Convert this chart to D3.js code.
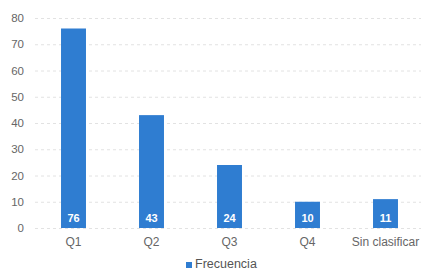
<!DOCTYPE html>
<html>
<head>
<meta charset="utf-8">
<script src="https://cdn.jsdelivr.net/npm/d3@7"></script>
<style>
  body { margin: 0; background: #fff; }
  svg { display: block; font-family: "Liberation Sans", Arial, sans-serif; }
  .tick text { fill: #666; font-size: 11.5px; }
</style>
</head>
<body>
<svg width="421" height="273"></svg>
<script>
const categories = ['Q1', 'Q2', 'Q3', 'Q4', 'Sin clasificar'];
const frecuencia = [76, 43, 24, 10, 11];
const yTicks = [0, 10, 20, 30, 40, 50, 60, 70, 80];
const seriesName = 'Frecuencia';

const svg = d3.select('svg');
const barColor = '#2f7dd1';

const x = d3.scaleBand()
  .domain(categories)
  .range([34.5, 424.5])
  .paddingInner(0.68)
  .paddingOuter(0.34);

const y = d3.scaleLinear()
  .domain([0, 80])
  .range([228, 18]);

// grid
const yAxis = d3.axisLeft(y)
  .tickValues(yTicks)
  .tickSize(-(421 - 35))
  .tickPadding(11);

const yAxisG = svg.append('g')
  .attr('transform', 'translate(35,0)')
  .call(yAxis);
yAxisG.select('.domain').remove();
yAxisG.selectAll('.tick line')
  .attr('stroke', '#e2e2e2')
  .attr('stroke-dasharray', '3,3');

const xAxis = d3.axisBottom(x).tickSize(0).tickPadding(9);
const xAxisG = svg.append('g')
  .attr('transform', 'translate(0,228)')
  .call(xAxis);
xAxisG.select('.domain').remove();
xAxisG.selectAll('.tick text').style('font-size', '12px').attr('fill', '#555');

const data = categories.map((c, i) => ({ cat: c, value: frecuencia[i] }));

svg.selectAll('rect.bar').data(data)
  .enter().append('rect')
    .attr('class', 'bar')
    .attr('x', d => x(d.cat))
    .attr('y', d => y(d.value))
    .attr('width', x.bandwidth())
    .attr('height', d => y(0) - y(d.value))
    .attr('fill', barColor);

svg.selectAll('text.val').data(data)
  .enter().append('text')
    .attr('class', 'val')
    .attr('x', d => x(d.cat) + x.bandwidth() / 2)
    .attr('y', y(0) - 6)
    .attr('text-anchor', 'middle')
    .attr('fill', '#fff')
    .style('font-size', '11px')
    .style('font-weight', 'bold')
    .text(d => d.value);

// legend
const legend = svg.append('g').attr('transform', 'translate(186,268)');
legend.append('rect')
  .attr('x', 0).attr('y', -6)
  .attr('width', 6).attr('height', 6)
  .attr('fill', barColor);
legend.append('text')
  .attr('x', 9).attr('y', 0)
  .attr('fill', '#555')
  .style('font-size', '12.5px')
  .text(seriesName);
</script>
</body>
</html>
